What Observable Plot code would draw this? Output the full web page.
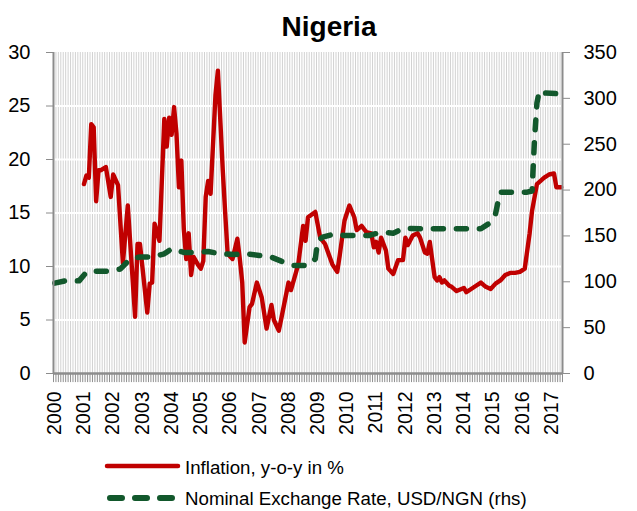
<!DOCTYPE html>
<html><head><meta charset="utf-8">
<script src="https://cdn.jsdelivr.net/npm/d3@7"></script>
<script src="https://cdn.jsdelivr.net/npm/@observablehq/plot@0.6"></script>
<style>
body{margin:0;background:#fff;font-family:"Liberation Sans",Arial,sans-serif;}
#wrap{position:relative;width:637px;height:511px;overflow:hidden;}
#chart{position:absolute;left:0;top:0;}
#title{position:absolute;left:0;width:658px;top:10px;text-align:center;font-weight:bold;font-size:28px;line-height:34px;color:#000;}
.lg{position:absolute;left:185px;font-size:18.7px;line-height:24px;color:#000;white-space:nowrap;}
.sw{position:absolute;left:100px;}
</style></head>
<body>
<div id="wrap">
  <div id="chart"></div>
  <div id="title"></div>
  <svg class="sw" style="top:455px" width="90" height="24"><line x1="7" x2="78" y1="11" y2="11" stroke="#c00000" stroke-width="4.5" stroke-linecap="round"/></svg>
  <svg class="sw" style="top:486px" width="90" height="24"><line x1="10" x2="78" y1="12" y2="12" stroke="#12582c" stroke-width="6" stroke-linecap="round" stroke-dasharray="12,13"/></svg>
  <div class="lg" id="lg1" style="top:455.5px"></div>
  <div class="lg" id="lg2" style="top:486.5px"></div>
</div>
<script>
const chartTitle = "Nigeria";
const seriesNames = ["Inflation, y-o-y in %", "Nominal Exchange Rate, USD/NGN (rhs)"];
const yearLabels = d3.range(2000, 2018);
const leftTicks = [0, 5, 10, 15, 20, 25, 30];
const rightTicks = [0, 50, 100, 150, 200, 250, 300, 350];

// Inflation, y-o-y in %
const infMonths = ["2001-01","2001-02","2001-03","2001-04","2001-05","2001-06","2001-07","2001-08","2001-10","2001-12",
"2002-01","2002-03","2002-05","2002-07","2002-10","2002-11","2002-12","2003-03","2003-04","2003-05","2003-06","2003-08",
"2003-10","2003-11","2003-12","2004-01","2004-02","2004-03","2004-04","2004-05","2004-06","2004-07","2004-08","2004-09",
"2004-10","2004-12","2005-01","2005-02","2005-03","2005-04","2005-05","2005-07","2005-08","2005-10","2005-11","2005-12",
"2006-02","2006-04","2006-05","2006-06","2006-07","2006-09","2006-10","2006-12","2007-02","2007-04","2007-06","2007-07",
"2007-09","2007-10","2008-01","2008-02","2008-05","2008-07","2008-08","2008-09","2008-12","2009-02","2009-04","2009-07",
"2009-09","2009-10","2009-12","2010-02","2010-04","2010-05","2010-07","2010-09","2010-11","2010-12","2011-01","2011-02",
"2011-03","2011-05","2011-06","2011-08","2011-10","2011-12","2012-01","2012-02","2012-04","2012-06","2012-07","2012-09",
"2012-10","2012-11","2013-01","2013-02","2013-03","2013-04","2013-05","2013-07","2013-08","2013-10","2013-12","2014-01",
"2014-02","2014-04","2014-06","2014-08","2014-10","2014-12","2015-02","2015-04","2015-06","2015-08","2015-10","2015-12",
"2016-02","2016-04","2016-05","2016-07","2016-10","2016-12","2017-02","2017-03","2017-05"];
const infValues = [17.7,18.5,18.3,23.3,23.0,16.1,19.0,19.0,19.3,16.5,
18.6,17.6,10.3,15.7,5.3,12.1,12.1,5.7,8.4,8.5,14.0,12.4,
23.8,21.2,23.9,22.3,24.9,22.4,17.4,19.9,13.5,10.7,13.1,9.2,
10.9,10.1,9.8,10.5,16.5,18.0,16.8,26.0,28.3,19.0,15.0,11.2,
10.7,12.6,10.7,8.5,2.9,6.2,6.5,8.5,7.1,4.2,6.4,5.0,
4.0,5.1,8.5,7.8,10.2,13.8,12.4,14.6,15.1,12.7,12.1,10.2,
9.5,11.0,14.3,15.7,14.6,13.4,13.8,13.2,13.1,11.8,12.3,11.3,
12.7,11.5,9.8,9.3,10.6,10.6,12.7,12.0,12.9,13.1,12.7,11.3,
11.2,12.3,9.0,8.7,9.0,8.5,8.7,8.2,8.1,7.7,7.9,8.0,
7.6,7.9,8.2,8.5,8.1,7.9,8.4,8.7,9.2,9.4,9.4,9.5,
9.8,13.1,15.2,17.7,18.3,18.6,18.7,17.4,17.4];

// Nominal exchange rate, USD/NGN (rhs)
const fxMonths = ["2000-01","2000-06","2000-11","2001-02","2001-06","2001-11","2002-04","2002-08","2002-12","2003-05",
"2003-10","2004-01","2004-06","2004-11","2005-04","2005-09","2006-03","2006-08","2007-01","2007-06","2007-10","2008-03",
"2008-09","2008-12","2009-01","2009-03","2009-08","2009-12","2010-05","2010-10","2011-03","2011-08","2011-12","2014-08",
"2014-11","2015-02","2015-03","2015-04","2016-03","2016-05","2016-06","2016-07","2016-08","2016-09","2017-05"];
const fxValues = [98.5,101.4,101,110.5,111.5,111.5,114,125,127,127,
130.5,136,132,132,133,130.5,129.8,130.5,128.7,126.8,122.5,117.8,
117.8,125,145,148.6,152.3,150.5,150.5,150.5,154,153,158,157.8,
163,174,187,197.7,197.7,199,255,295,308,306,305];

const mIndex = s => { const [y, m] = s.split("-").map(Number); return (y - 2000) * 12 + (m - 1); };
const rhsScale = 30 / 350;
const inflation = infMonths.map((s, i) => ({m: mIndex(s), v: infValues[i]}));
const fx = fxMonths.map((s, i) => ({m: mIndex(s), v: fxValues[i] * rhsScale}));

const nMonths = 209;
const monthBounds = d3.range(0, nMonths + 1).map(i => i - 0.5);
const axisGray = "#8c8c8c";

document.getElementById("title").textContent = chartTitle;
document.getElementById("lg1").textContent = seriesNames[0];
document.getElementById("lg2").textContent = seriesNames[1];

const chart = Plot.plot({
  width: 637, height: 445,
  marginLeft: 53, marginRight: 75, marginTop: 52, marginBottom: 72,
  style: {fontFamily: "Liberation Sans, Arial, sans-serif", fontSize: "20px", background: "transparent", color: "#000"},
  x: {type: "linear", domain: [-0.5, nMonths - 0.5]},
  y: {domain: [0, 30]},
  marks: [
    Plot.ruleX(monthBounds, {x: d => d, y1: 0, y2: 30, stroke: "#d2d2d2", strokeWidth: 1}),
    Plot.ruleY(leftTicks.slice(1, -1), {y: d => d, stroke: "#fff", strokeWidth: 2}),
    Plot.ruleX(monthBounds, {x: d => d, y1: 0, y2: -0.85, stroke: "#8f8f8f", strokeWidth: 1, clip: false}),
    Plot.line(inflation, {x: "m", y: "v", stroke: "#c00000", strokeWidth: 4.4, strokeLinejoin: "round", strokeLinecap: "round"}),
    Plot.line(fx, {x: "m", y: "v", stroke: "#12582c", strokeWidth: 5.5, strokeLinejoin: "round", strokeLinecap: "round", strokeDasharray: "10,13"}),
    Plot.ruleX([-0.5, nMonths - 0.5], {x: d => d, y1: 0, y2: 30, stroke: axisGray, strokeWidth: 2}),
    Plot.ruleY([0], {y: d => d, stroke: axisGray, strokeWidth: 2.5}),
    Plot.axisY({anchor: "left", ticks: leftTicks, tickSize: 7, tickPadding: 16, stroke: axisGray, fill: "#000", fontSize: 20, label: null}),
    Plot.axisY({anchor: "right", ticks: rightTicks.map(v => v * rhsScale), tickFormat: d => String(Math.round(d / rhsScale)), tickSize: 7, tickPadding: 14, stroke: axisGray, fill: "#000", fontSize: 20, label: null}),
    Plot.axisX({ticks: yearLabels.map(y => (y - 2000) * 12), tickFormat: d => String(2000 + d / 12), tickRotate: -90, tickSize: 0, tickPadding: 18, fontSize: 19.5, fill: "#000", label: null})
  ]
});
document.getElementById("chart").appendChild(chart);
</script>
</body></html>
